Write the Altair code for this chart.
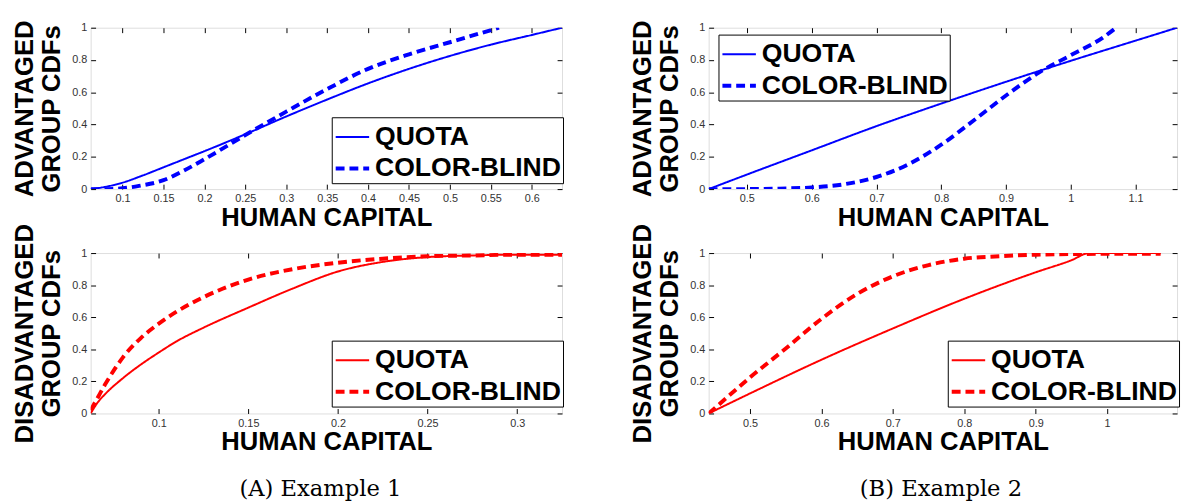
import altair as alt
import pandas as pd

SERIES = ["QUOTA", "COLOR-BLIND"]
Y_TICKS = [0, 0.2, 0.4, 0.6, 0.8, 1]

# Example 1, advantaged group
a_top_quota_x = [0.061, 0.08, 0.1, 0.125, 0.15, 0.175, 0.2, 0.25, 0.3, 0.35, 0.4, 0.45, 0.5, 0.55, 0.6, 0.637]
a_top_quota_y = [0.0, 0.015, 0.04, 0.085, 0.135, 0.185, 0.235, 0.34, 0.45, 0.555, 0.655, 0.745, 0.825, 0.895, 0.955, 1.0]
a_top_cb_x = [0.061, 0.08, 0.1, 0.12, 0.15, 0.175, 0.2, 0.25, 0.3, 0.35, 0.4, 0.45, 0.5, 0.53, 0.56]
a_top_cb_y = [0.0, 0.0, 0.005, 0.02, 0.055, 0.115, 0.185, 0.335, 0.48, 0.62, 0.745, 0.835, 0.91, 0.955, 1.0]
a_top_domain = [0.061, 0.637]
a_top_ticks = [0.1, 0.15, 0.2, 0.25, 0.3, 0.35, 0.4, 0.45, 0.5, 0.55, 0.6]

# Example 1, disadvantaged group
a_bot_quota_x = [0.062, 0.066, 0.07, 0.08, 0.09, 0.1, 0.11, 0.125, 0.15, 0.175, 0.2, 0.225, 0.25, 0.275, 0.3, 0.325]
a_bot_quota_y = [0.0, 0.07, 0.12, 0.22, 0.305, 0.38, 0.45, 0.535, 0.66, 0.78, 0.885, 0.945, 0.975, 0.985, 0.99, 0.99]
a_bot_cb_x = [0.062, 0.066, 0.07, 0.075, 0.08, 0.09, 0.1, 0.11, 0.125, 0.15, 0.175, 0.2, 0.225, 0.25, 0.275, 0.3, 0.325]
a_bot_cb_y = [0.02, 0.1, 0.18, 0.27, 0.35, 0.47, 0.56, 0.635, 0.725, 0.835, 0.9, 0.94, 0.965, 0.98, 0.985, 0.99, 0.99]
a_bot_domain = [0.062, 0.325]
a_bot_ticks = [0.1, 0.15, 0.2, 0.25, 0.3]

# Example 2, advantaged group
b_top_quota_x = [0.441, 0.5, 0.6, 0.7, 0.8, 0.9, 1.0, 1.1, 1.164]
b_top_quota_y = [0.0, 0.09, 0.24, 0.39, 0.53, 0.665, 0.795, 0.92, 1.0]
b_top_cb_x = [0.441, 0.5, 0.55, 0.6, 0.65, 0.7, 0.75, 0.8, 0.85, 0.9, 0.95, 1.0, 1.05, 1.07]
b_top_cb_y = [0.0, 0.0, 0.003, 0.01, 0.03, 0.075, 0.155, 0.275, 0.425, 0.58, 0.72, 0.83, 0.94, 1.0]
b_top_domain = [0.441, 1.164]
b_top_ticks = [0.5, 0.6, 0.7, 0.8, 0.9, 1, 1.1]

# Example 2, disadvantaged group
b_bot_quota_x = [0.442, 0.5, 0.6, 0.7, 0.8, 0.9, 0.95, 0.975, 1.075]
b_bot_quota_y = [0.0, 0.125, 0.335, 0.53, 0.715, 0.88, 0.955, 1.0, 1.0]
b_bot_cb_x = [0.442, 0.46, 0.5, 0.55, 0.6, 0.65, 0.7, 0.75, 0.8, 0.85, 0.9, 1.0, 1.075]
b_bot_cb_y = [0.0, 0.07, 0.225, 0.405, 0.59, 0.745, 0.855, 0.925, 0.965, 0.98, 0.99, 0.995, 0.995]
b_bot_domain = [0.442, 1.098]
b_bot_ticks = [0.5, 0.6, 0.7, 0.8, 0.9, 1]

FONT = "Liberation Sans"


def panel(qx, qy, cx, cy, xdom, xticks, ytitle, color, legend_xy, width, height,
          caption=None, caption_dx=0):
    df = pd.DataFrame({
        "x": qx + cx,
        "y": qy + cy,
        "series": [SERIES[0]] * len(qx) + [SERIES[1]] * len(cx),
    })
    xscale = alt.Scale(domain=xdom, nice=False, zero=False)
    yscale = alt.Scale(domain=[0, 1], nice=False, zero=False)
    legend = alt.Legend(
        title=None, orient="none", legendX=legend_xy[0], legendY=legend_xy[1],
        symbolType="stroke", symbolSize=1156, symbolStrokeColor=color,
        labelFont=FONT, labelFontSize=27, labelFontWeight="bold", labelColor="black",
        labelLimit=400, labelOffset=4, fillColor="white", strokeColor="black",
        padding=2, rowPadding=-3,
    )
    common_axis = dict(offset=-5, tickSize=5, domain=False, grid=False, tickColor="black",
                       labelFont=FONT, labelFontSize=11, labelColor="#333333",
                       labelPadding=4, format="~g")
    base = alt.Chart(df)
    lines = base.mark_line(color=color, clip=True, interpolate="monotone").encode(
        x=alt.X("x:Q", scale=xscale, title="HUMAN CAPITAL",
                axis=alt.Axis(values=xticks, orient="bottom", titleFont=FONT, titleFontSize=26,
                              titleFontWeight="bold", titleColor="black", titlePadding=1,
                              **common_axis)),
        y=alt.Y("y:Q", scale=yscale, title=ytitle,
                axis=alt.Axis(values=Y_TICKS, orient="left", titleFont=FONT, titleFontSize=26,
                              titleFontWeight="bold", titleColor="black", titlePadding=7,
                              titleLineHeight=28, **common_axis)),
        strokeDash=alt.StrokeDash("series:N", scale=alt.Scale(domain=SERIES, range=[[1, 0], [9, 5]]),
                                  legend=legend),
        strokeWidth=alt.StrokeWidth("series:N", scale=alt.Scale(domain=SERIES, range=[2, 4]),
                                    legend=legend),
    )
    frame_ticks = base.mark_line(opacity=0).encode(
        x=alt.X("x:Q", scale=xscale, title=None,
                axis=alt.Axis(values=xticks, orient="top", labels=False, offset=-5, tickSize=5,
                              domain=False, grid=False, tickColor="black")),
        y=alt.Y("y:Q", scale=yscale, title=None,
                axis=alt.Axis(values=Y_TICKS, orient="right", labels=False, offset=-5, tickSize=5,
                              domain=False, grid=False, tickColor="black")),
        detail="series:N",
    )
    props = dict(width=width, height=height)
    if caption:
        props["title"] = alt.TitleParams(caption, orient="bottom", anchor="middle", frame="group",
                                         font="DejaVu Serif", fontSize=23, fontWeight="normal",
                                         color="black", offset=24, dx=caption_dx)
    return alt.layer(lines, frame_ticks).resolve_axis(x="independent", y="independent").properties(**props)


a_top = panel(a_top_quota_x, a_top_quota_y, a_top_cb_x, a_top_cb_y, a_top_domain, a_top_ticks,
              ["ADVANTAGED", "GROUP CDFs"], "#0000ff", (245, 91), 479, 164)
b_top = panel(b_top_quota_x, b_top_quota_y, b_top_cb_x, b_top_cb_y, b_top_domain, b_top_ticks,
              ["ADVANTAGED", "GROUP CDFs"], "#0000ff", (10, 7), 476, 164)
a_bot = panel(a_bot_quota_x, a_bot_quota_y, a_bot_cb_x, a_bot_cb_y, a_bot_domain, a_bot_ticks,
              ["DISADVANTAGED", "GROUP CDFs"], "#ff0000", (245, 89), 479, 163,
              caption="(A) Example 1", caption_dx=-6)
b_bot = panel(b_bot_quota_x, b_bot_quota_y, b_bot_cb_x, b_bot_cb_y, b_bot_domain, b_bot_ticks,
              ["DISADVANTAGED", "GROUP CDFs"], "#ff0000", (243, 89), 476, 163,
              caption="(B) Example 2", caption_dx=-2)

chart = alt.concat(a_top, b_top, a_bot, b_bot, columns=2,
                   spacing={"row": 65, "column": 149}, bounds="flush").resolve_scale(
    strokeDash="independent", strokeWidth="independent", x="independent", y="independent"
).resolve_legend(strokeDash="independent", strokeWidth="independent").properties(
    padding={"left": 3, "top": 7, "right": 1, "bottom": 0},
).configure_view(stroke="black", strokeWidth=1.2).configure(background="white")

chart.save("out.html", embed_options={"renderer": "svg", "actions": False})
